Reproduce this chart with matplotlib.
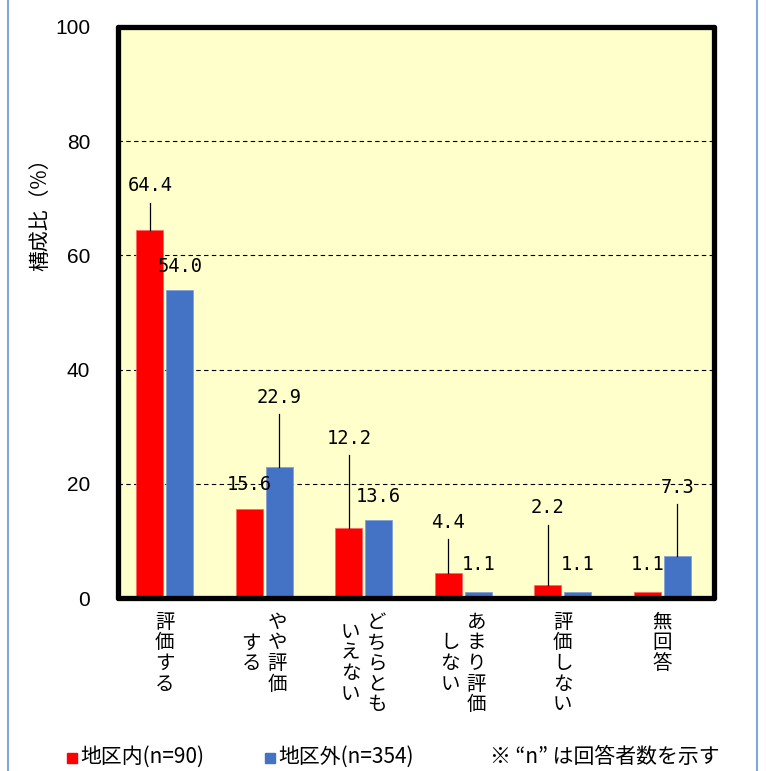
import matplotlib
matplotlib.use('Agg')
import matplotlib.pyplot as plt
from matplotlib.lines import Line2D
from matplotlib.patches import Rectangle
import numpy as np

# ─── データ ─────────────────────────────────────────────────────────
categories = ["評価する", "やや評価\nする", "どちらとも\nいえない",
              "あまり評価\nしない", "評価しない", "無回答"]
inside = [64.4, 15.6, 12.2, 4.4, 2.2, 1.1]     # 地区内(n=90)
outside = [54.0, 22.9, 13.6, 1.1, 1.1, 7.3]    # 地区外(n=354)
legend_labels = ["地区内(n=90)", "地区外(n=354)"]
yticks = [0, 20, 40, 60, 80, 100]

# ラベルの持ち上げ量（レイアウト用）
off_in = [7.8, 4.2, 15.8, 8.9, 13.6, 4.7]
off_out = [4.0, 12.3, 4.1, 4.7, 4.7, 12.1]

# ─── スタイル ───────────────────────────────────────────────────────
RED = '#FF0000'
BLUE = '#4472C4'
BG = '#FFFFCC'
JP = ['Noto Sans CJK JP', 'DejaVu Sans']
NARROW = ['Liberation Sans', 'DejaVu Sans']
MONO = ['DejaVu Sans Mono']

fig = plt.figure(figsize=(7.66, 7.71), dpi=100)
ax = fig.add_axes([118 / 766, 1 - 598 / 771, (714 - 118) / 766, (598 - 27) / 771])
ax.set_facecolor(BG)

x = np.arange(len(categories))
w = 0.272
d = 0.15
ax.bar(x - d, inside, w, color=RED, edgecolor='#FF6666', linewidth=0.6, zorder=3)
ax.bar(x + d, outside, w, color=BLUE, edgecolor='#7FA0DA', linewidth=0.6, zorder=3)

ax.set_xlim(-0.47, 5.52)
ax.set_ylim(0, 100)
ax.set_yticks(yticks)
ax.set_xticks([])
for t in ax.get_yticklabels():
    t.set_fontfamily(NARROW)
    t.set_fontsize(15)
ax.tick_params(axis='y', length=0, pad=20)
ax.yaxis.grid(True, linestyle=(0, (4, 3)), color='black', linewidth=0.8, zorder=1)
for s in ax.spines.values():
    s.set_linewidth(3.8)
    s.set_color('black')
    s.set_capstyle('round')
    s.set_joinstyle('round')
    s.set_zorder(5)

ax.set_ylabel('構成比（%）', family=JP, fontsize=15)
ax.yaxis.set_label_coords(-0.112, 0.68)

# 値ラベル + 引出線
def put_labels(xs, vals, offs):
    for xi, v, o in zip(xs, vals, offs):
        ly = v + o
        ax.text(xi, ly, f'{v:.1f}', family=MONO, fontsize=13.5,
                ha='center', va='center', zorder=6)
        if o > 6:
            ax.plot([xi, xi], [v, ly - 3.0], color='black', linewidth=0.9, zorder=4)

put_labels(x - d, inside, off_in)
put_labels(x + d, outside, off_out)

# 縦書きカテゴリ名（右の列から）
pitch = 14.8   # pt, 1文字
colgap = 18.7  # pt, 列間
for xi, lab in zip(x, categories):
    cols = lab.split('\n')
    n = len(cols)
    nmax = max(len(c) for c in cols)
    for k, col in enumerate(cols):
        dx = ((n - 1) / 2 - k) * colgap
        dy0 = (nmax - len(col)) / 2 * pitch
        for j, ch in enumerate(col):
            ax.annotate(ch, xy=(xi, 0), xycoords=('data', 'axes fraction'),
                        xytext=(dx, -10 - dy0 - j * pitch), textcoords='offset points',
                        ha='center', va='top', family=JP, fontsize=14,
                        annotation_clip=False)

# 凡例
for px, col, lab in [(67, RED, legend_labels[0]), (265, BLUE, legend_labels[1])]:
    fig.patches.append(Rectangle((px / 766, 1 - 763 / 771), 10 / 766, 10 / 771,
                                 transform=fig.transFigure, color=col))
    fig.text((px + 13) / 766, 1 - 757 / 771, lab, family=JP, fontsize=15,
             ha='left', va='center')
fig.text(490 / 766, 1 - 757 / 771, '※ “n” は回答者数を示す', family=JP, fontsize=15,
         ha='left', va='center')

# 外枠（左右の青線）
for fx in (8 / 766, 757 / 766):
    fig.add_artist(Line2D([fx, fx], [0, 1], transform=fig.transFigure,
                          color='#7FA7D8', linewidth=1.5))

fig.savefig('out.png', dpi=100, facecolor='white')
